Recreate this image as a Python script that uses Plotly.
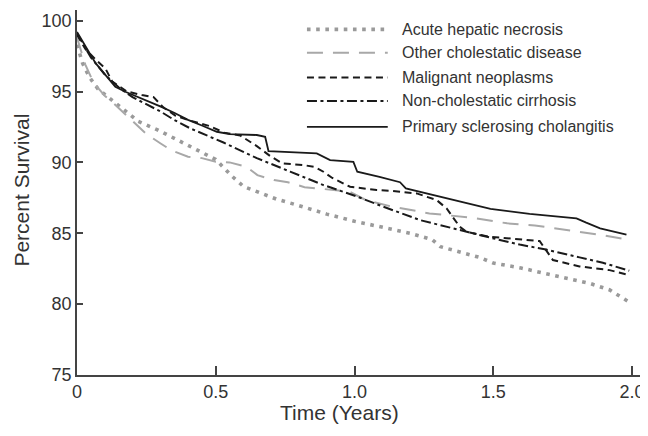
import plotly.graph_objects as go

# ---- data ----
series_names = [
    "Acute hepatic necrosis",
    "Other cholestatic disease",
    "Malignant neoplasms",
    "Non-cholestatic cirrhosis",
    "Primary sclerosing cholangitis",
]

ahn_t = [0, 0.02, 0.045, 0.075, 0.1, 0.13, 0.17, 0.22, 0.29, 0.34, 0.41, 0.5, 0.53, 0.56, 0.6, 0.65,
         0.72, 0.8, 0.9, 1.0, 1.1, 1.2, 1.28, 1.31, 1.45, 1.5, 1.6, 1.7, 1.8, 1.85, 1.92, 1.985]
ahn_v = [98.3, 97.0, 96.0, 95.2, 94.8, 94.3, 93.7, 92.9, 92.3, 91.8, 91.1, 90.2, 89.6, 89.0, 88.3, 87.9,
         87.4, 86.95, 86.35, 85.85, 85.4, 85.0, 84.55, 84.05, 83.3, 82.9, 82.55, 82.1, 81.65, 81.45, 81.0, 80.2]

oth_t = [0, 0.03, 0.06, 0.1, 0.13, 0.18, 0.21, 0.25, 0.30, 0.34, 0.40, 0.45, 0.5, 0.55, 0.61, 0.65,
         0.71, 0.76, 0.82, 0.87, 0.93, 0.98, 1.04, 1.13, 1.27, 1.42, 1.55, 1.65, 1.81, 1.9, 1.997]
oth_v = [98.8, 96.9, 95.6, 94.7, 94.2, 93.3, 92.7, 92.0, 91.35, 90.85, 90.4, 90.3, 90.05, 90.0, 89.7, 89.1,
         88.75, 88.6, 88.25, 88.15, 88.0, 87.95, 87.35, 86.9, 86.4, 86.1, 85.7, 85.55, 85.1, 84.85, 84.5]

mal_t = [0, 0.03, 0.07, 0.103, 0.127, 0.18, 0.234, 0.276, 0.31, 0.354, 0.402, 0.48, 0.53, 0.588, 0.648,
         0.696, 0.74, 0.816, 0.858, 0.888, 0.92, 0.984, 1.08, 1.128, 1.224, 1.296, 1.332, 1.379, 1.404,
         1.487, 1.667, 1.69, 1.715, 1.811, 1.919, 1.99]
mal_v = [99.0, 98.0, 97.2, 96.6, 95.7, 95.0, 94.75, 94.6, 93.9, 93.3, 92.98, 92.55, 92.1, 91.9, 91.15,
         90.45, 89.93, 89.81, 89.67, 89.34, 88.9, 88.28, 88.05, 88.0, 87.81, 87.34, 86.75, 85.46, 85.1,
         84.75, 84.45, 83.82, 83.11, 82.66, 82.4, 82.05]

ncc_t = [0, 0.05, 0.1, 0.15, 0.2, 0.25, 0.3, 0.35, 0.408, 0.528, 0.648, 0.768, 0.888, 1.008, 1.104,
         1.236, 1.379, 1.487, 1.595, 1.69, 1.811, 1.895, 1.99]
ncc_v = [99.1, 97.4, 96.2, 95.3, 94.6, 94.1, 93.6, 93.0, 92.4, 91.4, 90.3, 89.35, 88.4, 87.6, 86.87,
         85.93, 85.2, 84.7, 84.2, 83.85, 83.3, 82.92, 82.36]

psc_t = [0, 0.031, 0.067, 0.103, 0.138, 0.174, 0.234, 0.3, 0.35, 0.4, 0.45, 0.504, 0.55, 0.648, 0.678,
         0.69, 0.864, 0.888, 0.912, 0.996, 1.01, 1.09, 1.164, 1.185, 1.283, 1.379, 1.49, 1.631, 1.8,
         1.835, 1.885, 1.98]
psc_v = [99.2, 98.15, 97.0, 96.16, 95.33, 94.98, 94.5, 93.95, 93.5, 93.0, 92.6, 92.16, 92.0, 91.93, 91.8,
         90.8, 90.63, 90.4, 90.16, 90.04, 89.34, 88.98, 88.6, 88.17, 87.69, 87.22, 86.72, 86.37, 86.05,
         85.75, 85.35, 84.9]

x_tickvals = [0, 0.5, 1.0, 1.5, 2.0]
x_ticktext = ["0", "0.5", "1.0", "1.5", "2.0"]
y_tickvals = [75, 80, 85, 90, 95, 100]
y_ticktext = ["75", "80", "85", "90", "95", "100"]

# ---- styles ----
FONT = "Liberation Sans, Arial, Helvetica, sans-serif"
styles = [
    dict(color="#9a9a9a", width=3.6, dash="3.6px,5.6px"),
    dict(color="#a8a8a8", width=2.0, dash="16px,10px"),
    dict(color="#1a1a1a", width=2.0, dash="7px,4.5px"),
    dict(color="#1a1a1a", width=2.0, dash="10px,3.5px,3px,3.5px"),
    dict(color="#1a1a1a", width=1.8, dash="solid"),
]
data = [(ahn_t, ahn_v), (oth_t, oth_v), (mal_t, mal_v), (ncc_t, ncc_v), (psc_t, psc_v)]

fig = go.Figure()
for name, (t, v), st in zip(series_names, data, styles):
    fig.add_trace(go.Scatter(x=t, y=v, mode="lines", name=name, line=st,
                             showlegend=False, hoverinfo="skip"))

# ---- manual legend (long line samples) ----
leg_x0, leg_x1, leg_tx = 0.407, 0.550, 0.5717
leg_rows = [0.947, 0.883, 0.815, 0.751, 0.680]
shapes = []
annotations = []
for name, st, yy in zip(series_names, styles, leg_rows):
    shapes.append(dict(type="line", xref="paper", yref="paper", x0=leg_x0, x1=leg_x1, y0=yy, y1=yy,
                       line=dict(color=st["color"], width=st["width"], dash=st["dash"])))
    annotations.append(dict(xref="paper", yref="paper", x=leg_tx, y=yy, text=name, showarrow=False,
                            xanchor="left", yanchor="middle",
                            font=dict(family=FONT, size=16, color="#333")))

# axis titles
annotations.append(dict(xref="paper", yref="paper", x=0.465, y=-0.104, text="Time (Years)",
                        showarrow=False, xanchor="center", yanchor="middle",
                        font=dict(family=FONT, size=21, color="#333")))
annotations.append(dict(xref="paper", yref="paper", x=-0.098, y=0.507, text="Percent Survival",
                        showarrow=False, xanchor="center", yanchor="middle", textangle=-90,
                        font=dict(family=FONT, size=21, color="#333")))

# the page body has an 8px margin, so the figure is 8px smaller and offset
fig.update_layout(
    width=640, height=428,
    margin=dict(l=69, r=6, t=2, b=61),
    paper_bgcolor="white", plot_bgcolor="white",
    font=dict(family=FONT, color="#333"),
    shapes=shapes, annotations=annotations,
    showlegend=False,
)
fig.update_xaxes(range=[0, 2.036], tickvals=x_tickvals, ticktext=x_ticktext,
                 showline=True, linecolor="#444", linewidth=1.5, mirror=False,
                 ticks="inside", ticklen=9, tickwidth=1.5, tickcolor="#444",
                 showgrid=False, zeroline=False, tickfont=dict(family=FONT, size=18, color="#333"))
fig.update_yaxes(range=[75, 100.75], tickvals=y_tickvals, ticktext=y_ticktext,
                 showline=True, linecolor="#444", linewidth=1.5, mirror=False,
                 ticks="inside", ticklen=6, tickwidth=1.5, tickcolor="#444",
                 showgrid=False, zeroline=False, tickfont=dict(family=FONT, size=18, color="#333"))

fig.write_html("out.html")
